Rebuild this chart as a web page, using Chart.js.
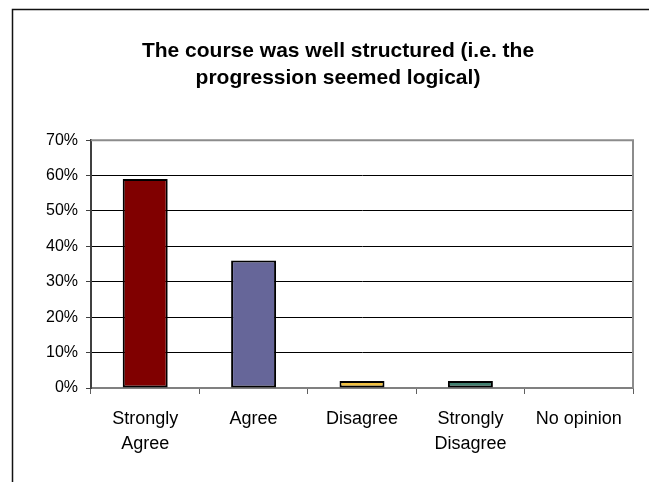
<!DOCTYPE html>
<html>
<head>
<meta charset="utf-8">
<script src="https://cdn.jsdelivr.net/npm/chart.js@4"></script>
<style>
  body { margin: 0; background: #fff; }
  canvas { display: block; }
</style>
</head>
<body>
<canvas id="chart" width="649" height="482"></canvas>
<script>
// Answers to "The course was well structured" (share of respondents)
const categories = [['Strongly', 'Agree'], 'Agree', 'Disagree', ['Strongly', 'Disagree'], 'No opinion'];
const shares = [59, 36, 2, 2, 0];
const barColors = ['#800000', '#666699', '#F0C040', '#408070', '#C0C0C0'];
const yTicks = [0, 10, 20, 30, 40, 50, 60, 70];

const FONT = "'Liberation Sans', Arial, sans-serif";

// Outer frame plus the grey top/right edges of the plot area
const framePlugin = {
    id: 'frame',
    afterDraw(chart) {
        const ctx = chart.ctx;
        const a = chart.chartArea;
        ctx.save();
        ctx.strokeStyle = '#111';
        ctx.lineWidth = 1.5;
        ctx.beginPath();
        ctx.moveTo(12.5, chart.height);
        ctx.lineTo(12.5, 9.5);
        ctx.lineTo(chart.width, 9.5);
        ctx.stroke();

        ctx.strokeStyle = '#8c8c8c';
        ctx.lineWidth = 2;
        ctx.beginPath();
        ctx.moveTo(a.left, a.top);
        ctx.lineTo(a.right, a.top);
        ctx.lineTo(a.right, a.bottom);
        ctx.stroke();
        ctx.restore();
    }
};

new Chart(document.getElementById('chart'), {
    type: 'bar',
    data: {
        labels: categories,
        datasets: [{
            data: shares,
            backgroundColor: barColors,
            borderColor: '#000',
            borderWidth: 2,
            borderSkipped: false,
            categoryPercentage: 1,
            barPercentage: 0.415
        }]
    },
    options: {
        responsive: false,
        animation: false,
        layout: { padding: { left: 43, right: 16, top: 0, bottom: 0 } },
        plugins: {
            legend: { display: false },
            tooltip: { enabled: false },
            title: {
                display: true,
                text: ['The course was well structured (i.e. the', 'progression seemed logical)'],
                color: '#000',
                font: { family: FONT, size: 21, weight: 'bold', lineHeight: 1.29 },
                padding: { top: 38, bottom: 48 }
            }
        },
        scales: {
            x: {
                offset: true,
                afterFit(scale) { scale.height = 94; },
                border: { color: '#808080', width: 2 },
                grid: {
                    offset: true,
                    drawOnChartArea: false,
                    drawTicks: true,
                    tickLength: 6,
                    color: '#606060'
                },
                ticks: {
                    color: '#000',
                    padding: 12,
                    maxRotation: 0,
                    font: { family: FONT, size: 18, lineHeight: 1.4 }
                }
            },
            y: {
                min: 0,
                max: 70,
                afterFit(scale) { scale.width = 48; },
                afterBuildTicks(scale) { scale.ticks = yTicks.map(v => ({ value: v })); },
                border: { color: '#404040', width: 2 },
                grid: {
                    color: '#000',
                    lineWidth: 1,
                    tickLength: 5,
                    tickColor: '#404040'
                },
                ticks: {
                    color: '#000',
                    padding: 8,
                    font: { family: FONT, size: 16 },
                    callback: v => v + '%'
                }
            }
        }
    },
    plugins: [framePlugin]
});
</script>
</body>
</html>
